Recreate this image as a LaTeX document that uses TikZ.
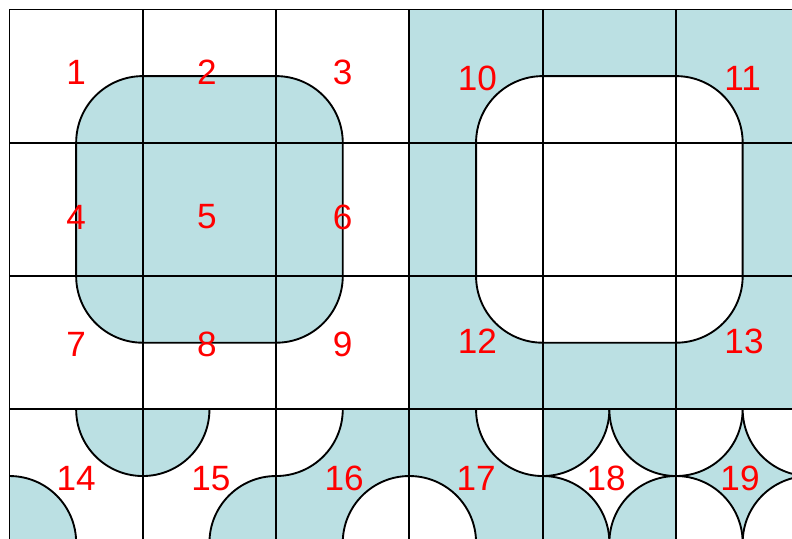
\documentclass[tikz,border=0pt]{standalone}
\usepackage{fontspec}
\setmainfont{Liberation Sans}
\usepackage{xcolor}
\definecolor{tile}{RGB}{187,224,227}
\definecolor{num}{RGB}{255,0,0}

\begin{document}
\begin{tikzpicture}[x=2cm,y=2cm,
    lbl/.style={text=num,font=\fontsize{15}{18}\selectfont,inner sep=0pt},
    edge/.style={draw=black,line width=0.8pt}]
  \useasboundingbox (-0.0713,0.035) rectangle (5.870,4.071);
  \clip (-0.0713,0.035) rectangle (5.870,4.071);
  \fill[white] (-0.0713,0.035) rectangle (5.870,4.071);
  % top blocks
  \fill[tile] (3,1) rectangle (6,4);
  \draw[edge,fill=tile,rounded corners=1cm] (0.5,1.5) rectangle (2.5,3.5);
  \draw[edge,fill=white,rounded corners=1cm] (3.5,1.5) rectangle (5.5,3.5);
  % bottom row: cell / background / quarter discs / their corners
  \foreach \c/\bg/\fg/\cs in {0/white/tile/{1/1,0/0}, 1/white/tile/{0/1,1/0},
      2/tile/white/{0/1,1/0}, 3/tile/white/{0/0,1/1},
      4/white/tile/{0/0,1/0,0/1,1/1}, 5/tile/white/{0/0,1/0,0/1,1/1}} {
    \begin{scope}
      \clip (\c,0) rectangle ++(1,1);
      \fill[\bg] (\c,0) rectangle ++(1,1);
      \foreach \dx/\dy in \cs
        \draw[edge,fill=\fg] (\c+\dx,\dy) circle (0.5);
    \end{scope}
  }
  \draw[edge,step=1] (0,0) grid (6,4);
  % numbers
  \foreach \t/\x/\y in {1/0.50/3.527, 2/1.48/3.527, 3/2.50/3.527,
      4/0.50/2.443, 5/1.48/2.443, 6/2.50/2.443,
      7/0.50/1.491, 8/1.48/1.491, 9/2.50/1.491,
      10/3.51/3.486, 11/5.50/3.486, 12/3.51/1.513, 13/5.51/1.513,
      14/0.50/0.482, 15/1.51/0.482, 16/2.51/0.482, 17/3.50/0.482,
      18/4.475/0.482, 19/5.48/0.482}
    \node[lbl] (n\t) at (\x,\y) {\t};
\end{tikzpicture}
\end{document}
